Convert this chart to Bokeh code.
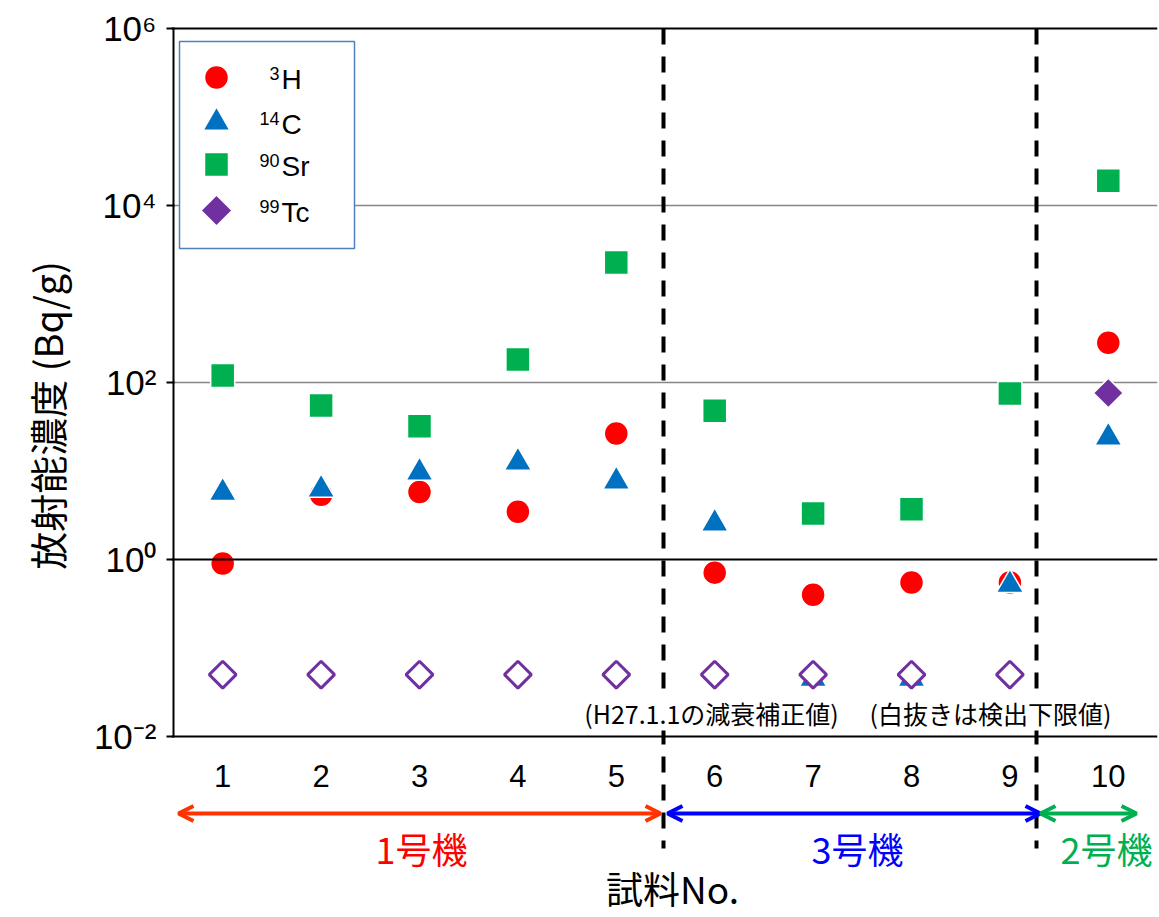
import math

from bokeh.core.properties import value
from bokeh.embed import file_html
from bokeh.layouts import row
from bokeh.models import Arrow, ColumnDataSource, FixedTicker, OpenHead, Range1d, Span
from bokeh.plotting import figure
from bokeh.resources import INLINE

# ---------------------------------------------------------------- data
samples = [1, 2, 3, 4, 5, 6, 7, 8, 9, 10]
h3 = [0.90, 5.4, 5.8, 3.46, 26.5, 0.71, 0.40, 0.55, 0.55, 281]
c14 = [5.7, 6.2, 9.6, 12.5, 7.6, 2.55, 0.045, 0.045, 0.52, 24]
sr90 = [120, 55, 32, 182, 2270, 48, 3.3, 3.7, 75, 19100]
tc99 = [0.05, 0.05, 0.05, 0.05, 0.05, 0.05, 0.05, 0.05, 0.05, 76]
# True where the 99Tc value is only the detection limit (open marker)
tc99_below_limit = [True, True, True, True, True, True, True, True, True, False]

nuclide_mass = ["3", "14", "90", "99"]
nuclide_symbol = ["H", "C", "Sr", "Tc"]

unit_names = ["1号機", "3号機", "2号機"]
unit_colors = ["#FF0000", "#0000FF", "#00B050"]
arrow_colors = ["#FF3300", "#0000FF", "#00B050"]

y_ticks = [0.01, 1, 100, 10000, 1000000]
y_tick_labels = ["10⁻²", "10⁰", "10²", "10⁴", "10⁶"]

x_title = "試料No."
y_title = "放射能濃度 (Bq/g)"
notes = ["(H27.1.1の減衰補正値)", "(白抜きは検出下限値)"]

# ---------------------------------------------------------------- layout
W, H = 1159, 917
TITLE_W = 75                              # strip holding the y axis title
FRAME_TOP, FRAME_BOTTOM = 26, 0           # borders in px
FRAME_LEFT, FRAME_RIGHT = 171, 2          # measured from the page's left edge
DECADE_PX = 88.5                          # height of one decade
X_UNIT_PX = 98.4                          # width of one sample slot
AXIS_TOP_PX = 28                          # pixel row of 1e6
AXIS_LEFT_PX = 173                        # pixel column of x = 0.5

frame_h = H - FRAME_TOP - FRAME_BOTTOM
y_hi = 10 ** (6 + (AXIS_TOP_PX - FRAME_TOP) / DECADE_PX)
y_lo = 10 ** (6 - (frame_h - (AXIS_TOP_PX - FRAME_TOP)) / DECADE_PX)
x_lo = 0.5 - (AXIS_LEFT_PX - FRAME_LEFT) / X_UNIT_PX
x_hi = x_lo + (W - FRAME_LEFT - FRAME_RIGHT) / X_UNIT_PX


def px_x(px):
    """Data x of a pixel column of the page."""
    return 0.5 + (px - AXIS_LEFT_PX) / X_UNIT_PX


def px_y(px):
    """Data y (log scale) of a pixel row."""
    return 10 ** (6 - (px - AXIS_TOP_PX) / DECADE_PX)


# ---------------------------------------------------------------- y title strip
t = figure(width=TITLE_W, height=H, x_range=Range1d(0, TITLE_W), y_range=Range1d(0, H),
           output_backend="svg", toolbar_location=None,
           min_border=0, outline_line_color=None)
t.axis.visible = False
t.grid.visible = False
t.background_fill_color = "white"
t.border_fill_color = "white"
t.text(x=[46], y=[H - 400], text=[y_title], angle=math.pi / 2,
       text_font=value("Noto Sans CJK JP"), text_font_size="38px", text_color="black",
       text_align="center", text_baseline="middle")

# ---------------------------------------------------------------- main plot
p = figure(width=W - TITLE_W, height=H,
           x_range=Range1d(x_lo, x_hi), y_range=Range1d(y_lo, y_hi),
           y_axis_type="log", output_backend="svg", toolbar_location=None,
           min_border_left=FRAME_LEFT - TITLE_W, min_border_right=FRAME_RIGHT,
           min_border_top=FRAME_TOP, min_border_bottom=FRAME_BOTTOM)
p.outline_line_color = None
p.background_fill_color = "white"
p.border_fill_color = "white"
p.xaxis.visible = False

# grid: grey at 1e2 / 1e4, black at 1e0, frame lines at 1e-2 and 1e6
p.xgrid.visible = False
p.ygrid.ticker = FixedTicker(ticks=[1e2, 1e4])
p.ygrid.grid_line_color = "#868686"
p.ygrid.grid_line_width = 1.5
for loc in (1, 1e-2, 1e6):
    p.add_layout(Span(location=loc, dimension="width", line_color="black", line_width=2))

# y axis
yax = p.yaxis[0]
yax.ticker = FixedTicker(ticks=y_ticks)
yax.major_label_overrides = dict(zip(y_ticks, y_tick_labels))
yax.axis_line_color = None
yax.minor_tick_line_color = None
yax.major_tick_in = 3
yax.major_tick_out = 5
yax.major_tick_line_width = 2
yax.major_label_standoff = 10
yax.major_label_text_font = "Liberation Sans"
yax.major_label_text_font_size = "35px"
yax.major_label_text_color = "black"

# y axis line from 1e-2 to 1e6 only
p.segment(x0=[0.5], y0=[1e-2], x1=[0.5], y1=[1e6], line_color="black", line_width=2)

# dashed separators between reactor units
sep_x = [px_x(663), px_x(1036)]
p.segment(x0=sep_x, y0=[1e6] * 2, x1=sep_x, y1=[px_y(848)] * 2,
          line_color="black", line_width=4, line_dash="16 12")

# sample numbers
p.text(x=samples, y=[px_y(775)] * len(samples), text=[str(s) for s in samples],
       text_font=value("Liberation Sans"), text_font_size="31px",
       text_align="center", text_baseline="middle", text_color="black")

# unit arrows and names
arrow_px = [(178, 660), (667, 1040), (1040, 1136)]
for (a, b), col in zip(arrow_px, arrow_colors):
    p.add_layout(Arrow(x_start=px_x(a), x_end=px_x(b), y_start=px_y(813), y_end=px_y(813),
                       line_color=col, line_width=4,
                       start=OpenHead(size=15, line_color=col, line_width=4),
                       end=OpenHead(size=15, line_color=col, line_width=4)))
p.text(x=[px_x(421), px_x(857), px_x(1106)], y=[px_y(847)] * 3, text=unit_names,
       text_color=unit_colors, text_font=value("Noto Sans CJK JP"), text_font_size="36px",
       text_align="center", text_baseline="middle")

# x axis title
p.text(x=[px_x(672)], y=[px_y(887)], text=[x_title],
       text_font=value("Noto Sans CJK JP"), text_font_size="37px",
       text_align="center", text_baseline="middle", text_color="black")

# footnotes inside the plot
p.text(x=[px_x(711), px_x(990)], y=[px_y(712)] * 2, text=notes,
       text_font=value("Noto Sans CJK JP"), text_font_size="25px",
       text_align="center", text_baseline="middle", text_color="black",
       background_fill_color="white")

# ---------------------------------------------------------------- markers
H3_STYLE = dict(marker="circle", size=24, fill_color="#FF0000", line_color="white", line_width=1.5)
C14_STYLE = dict(marker="triangle", size=27, fill_color="#0070C0", line_color="white", line_width=1.5)
SR_STYLE = dict(marker="square", size=24, fill_color="#00B050", line_color="white", line_width=1.5)
TC_STYLE = dict(marker="square", angle=math.pi / 4, size=21, fill_color="#7030A0",
                line_color="white", line_width=1.5)

p.scatter(samples, h3, **H3_STYLE)
p.scatter(samples, c14, **C14_STYLE)
p.scatter(samples, sr90, **SR_STYLE)

tc_det = ColumnDataSource(dict(
    x=[s for s, b in zip(samples, tc99_below_limit) if not b],
    y=[v for v, b in zip(tc99, tc99_below_limit) if not b]))
tc_lim = ColumnDataSource(dict(
    x=[s for s, b in zip(samples, tc99_below_limit) if b],
    y=[v for v, b in zip(tc99, tc99_below_limit) if b]))
p.scatter("x", "y", source=tc_det, **TC_STYLE)
p.scatter("x", "y", source=tc_lim, marker="square", angle=math.pi / 4, size=19,
          fill_color="white", line_color="#7030A0", line_width=3)

# ---------------------------------------------------------------- legend box
p.quad(left=[px_x(179)], right=[px_x(354)], top=[px_y(41)], bottom=[px_y(248)],
       fill_color="white", line_color="#4F81BD", line_width=1.5)
row_px = [77, 122, 164, 210]
styles = [H3_STYLE, C14_STYLE, SR_STYLE, dict(TC_STYLE, size=22)]
for rp, st in zip(row_px, styles):
    p.scatter([px_x(216)], [px_y(rp)], **st)
p.text(x=[px_x(279)] * 4, y=[px_y(rp - 4) for rp in row_px], text=nuclide_mass,
       text_font=value("Liberation Sans"), text_font_size="18px",
       text_align="right", text_baseline="middle", text_color="black")
p.text(x=[px_x(281)] * 4, y=[px_y(rp + 2) for rp in row_px], text=nuclide_symbol,
       text_font=value("Liberation Sans"), text_font_size="28px",
       text_align="left", text_baseline="middle", text_color="black")

open("out.html", "w").write(file_html(row(t, p), INLINE))
